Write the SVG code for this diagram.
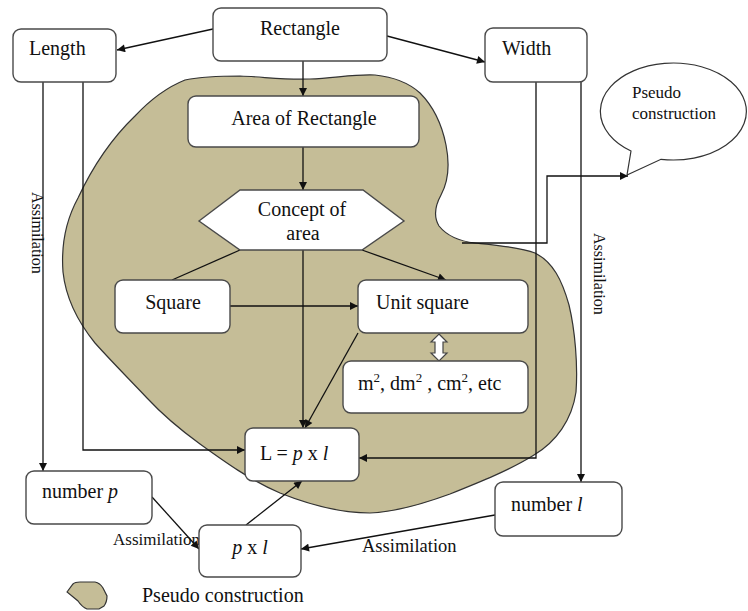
<svg xmlns="http://www.w3.org/2000/svg" width="748" height="611" viewBox="0 0 748 611" font-family="'Liberation Serif', 'DejaVu Serif', serif">
<defs>
<marker id="ah" viewBox="0 0 10 10" refX="10" refY="5" markerWidth="10" markerHeight="8" markerUnits="userSpaceOnUse" orient="auto">
<path d="M0,0 L10,5 L0,10 Z" fill="#111"/>
</marker>
<style>
text{font-family:'Liberation Serif','DejaVu Serif',serif;fill:#111}
.t{font-size:20px}
.s{font-size:16px}
.m{font-size:17px}
.c{fill:none;stroke:#111;stroke-width:1.3}
.a{marker-end:url(#ah)}
.box{fill:#fff;stroke:#4a4a4a;stroke-width:1.4}
.blob{fill:#c5bd97;stroke:#333;stroke-width:1.2}
.sup{font-size:13px}
.i{font-style:italic}
</style>
</defs>
<rect width="748" height="611" fill="#fff"/>

<g id="pseudo-area">
<path class="blob" d="M185,80 C200,77 215,76 240,76 C265,77 285,80 310,79 C335,78 355,74 375,75 C395,77 410,84 420,93 C433,106 442,125 446,145 C450,165 448,182 441,195 C435,206 433,216 439,226 C447,236 458,241 475,243 C495,245 520,247 535,253 C553,262 562,280 569,305 C575,330 578,365 576,392 C572,420 556,442 534,455 C510,470 480,482 450,494 C420,505 395,512 370,513 C340,513 310,505 280,493 C250,480 225,462 200,444 C178,428 160,412 147,398 C130,380 112,362 95,343 C78,322 66,300 63,272 C61,245 66,220 78,198 C92,168 110,140 135,116 C150,100 165,88 185,80 Z"/>
</g>

<g id="connectors">
<line class="c a" x1="213" y1="29" x2="117" y2="50"/>
<line class="c a" x1="387" y1="36" x2="485" y2="62"/>
<line class="c a" x1="303" y1="61" x2="303" y2="96"/>
<line class="c a" x1="303" y1="147" x2="303" y2="190"/>
<line class="c" x1="240" y1="250" x2="172" y2="280"/>
<line class="c a" x1="362" y1="250" x2="446" y2="280"/>
<line class="c a" x1="303" y1="250" x2="303" y2="428"/>
<line class="c a" x1="230" y1="306" x2="358" y2="306"/>
<line class="c a" x1="358" y1="333" x2="305" y2="428"/>
<line class="c a" x1="43" y1="82" x2="43" y2="471"/>
<polyline class="c a" points="83,82 83,450 245,450"/>
<polyline class="c a" points="536,82 536,458 359,458"/>
<line class="c a" x1="581" y1="82" x2="581" y2="482"/>
<line class="c a" x1="152" y1="497" x2="199" y2="549"/>
<line class="c a" x1="246" y1="525" x2="302" y2="481"/>
<line class="c a" x1="495" y1="515" x2="301" y2="549"/>
<polyline class="c a" points="462,243 547,243 547,176 628,176"/>
<path d="M439,334 L447,342 L443,342 L443,353 L447,353 L439,361 L431,353 L435,353 L435,342 L431,342 Z" fill="#fff" stroke="#444" stroke-width="1.2"/>
<text class="s" transform="translate(32,192) rotate(90)">Assimilation</text>
<text class="s" transform="translate(594,233) rotate(90)">Assimilation</text>
<text class="m" x="113" y="545">Assimilation</text>
<text class="t" x="362" y="552" style="font-size:18.5px">Assimilation</text>
</g>

<g id="rectangle">
<rect class="box" x="213" y="8" width="174" height="53" rx="8"/>
<text class="t" x="300" y="35" text-anchor="middle">Rectangle</text>
</g>
<g id="length">
<rect class="box" x="13" y="29" width="103" height="53" rx="8"/>
<text class="t" x="29" y="55">Length</text>
</g>
<g id="width">
<rect class="box" x="485" y="28" width="102" height="54" rx="8"/>
<text class="t" x="502" y="55">Width</text>
</g>
<g id="area-of-rectangle">
<rect class="box" x="188" y="96" width="231" height="51" rx="8"/>
<text class="t" x="304" y="125" text-anchor="middle">Area of Rectangle</text>
</g>
<g id="concept-of-area">
<polygon class="box" points="199,221 240,190 363,190 404,221 362,250 240,250"/>
<text class="t" x="302" y="216" text-anchor="middle">Concept of</text>
<text class="t" x="303" y="240" text-anchor="middle">area</text>
</g>
<g id="square">
<rect class="box" x="115" y="280" width="115" height="53" rx="8"/>
<text class="t" x="173" y="309" text-anchor="middle">Square</text>
</g>
<g id="unit-square">
<rect class="box" x="358" y="280" width="170" height="53" rx="8"/>
<text class="t" x="376" y="309">Unit square</text>
</g>
<g id="units">
<rect class="box" x="343" y="361" width="185" height="52" rx="8"/>
<text class="t" x="358" y="390">m<tspan class="sup" dy="-8">2</tspan><tspan dy="8">, dm</tspan><tspan class="sup" dy="-8">2</tspan><tspan dy="8"> , cm</tspan><tspan class="sup" dy="-8">2</tspan><tspan dy="8">, etc</tspan></text>
</g>
<g id="formula">
<rect class="box" x="245" y="428" width="114" height="53" rx="8"/>
<text class="t" x="260" y="460">L = <tspan class="i">p</tspan> x <tspan class="i">l</tspan></text>
</g>
<g id="number-p">
<rect class="box" x="26" y="471" width="126" height="53" rx="8"/>
<text class="t" x="42" y="498">number <tspan class="i">p</tspan></text>
</g>
<g id="p-x-l">
<rect class="box" x="199" y="525" width="102" height="52" rx="8"/>
<text class="t" x="250" y="554" text-anchor="middle"><tspan class="i">p</tspan> x <tspan class="i">l</tspan></text>
</g>
<g id="number-l">
<rect class="box" x="495" y="482" width="127" height="54" rx="8"/>
<text class="t" x="511" y="511">number <tspan class="i">l</tspan></text>
</g>
<g id="bubble">
<path d="M631,151 L627,175 L661,159.3 A73,48.5 0 1 0 631,151 Z" fill="#fff" stroke="#333" stroke-width="1.2"/>
<text class="m" x="632" y="98">Pseudo</text>
<text class="m" x="632" y="119">construction</text>
</g>
<g id="legend">
<path class="blob" stroke-width="1.6" d="M67,592 L73,584 Q75,582 80,582 L95,582 Q100,583 103,588 L107,596 Q107,602 104,606 L99,609 L87,609 Q82,607 78,601 Z"/>
<text class="t" x="142" y="602">Pseudo construction</text>
</g>
</svg>
